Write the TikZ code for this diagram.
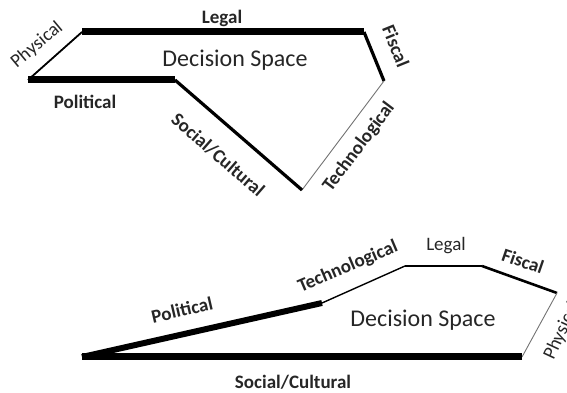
\documentclass[tikz,border=0pt]{standalone}
\usepackage{fontspec}
\setmainfont{Carlito}
\definecolor{ink}{HTML}{262626}
\begin{document}
\begin{tikzpicture}[x=1pt,y=1pt,
  lbl/.style={inner sep=0pt,text=ink,font=\fontsize{19}{19}\selectfont},
  blbl/.style={lbl,font=\fontsize{19}{19}\selectfont\bfseries},
  title/.style={inner sep=0pt,text=ink,font=\fontsize{24}{24}\selectfont},
  heavy/.style={line width=7pt},
  medium/.style={line width=3.2pt},
  light/.style={line width=1.8pt},
  hair/.style={line width=0.9pt,draw=black!55}]
\clip (0,0) rectangle (567,393);

% upper decision space
\coordinate (A) at (28,313);
\coordinate (B) at (82,361);
\coordinate (C) at (364,361);
\coordinate (D) at (384,312);
\coordinate (E) at (302,203);
\coordinate (F) at (175,313);

\draw[light] (A) -- (B);
\draw[heavy] (B) -- (C);
\draw[medium] (C) -- (D);
\draw[hair] (D) -- (E);
\draw[medium] (E) -- (F);
\draw[heavy] (F) -- (A);

\node[title] (ds1) at (235,333) {Decision Space};
\node[blbl] (legal1) at (222,375) {Legal};
\node[lbl,rotate=40] (phys1) at (37,348) {Physical};
\node[blbl] (pol1) at (85,291) {Political};
\node[blbl,rotate=-41] (soc1) at (218,238) {Social/Cultural};
\node[blbl,rotate=-68] (fis1) at (396,347) {Fiscal};
\node[blbl,rotate=53] (tech1) at (359,246) {Technological};

% lower decision space
\coordinate (P) at (82,36);
\coordinate (Q) at (322,90);
\coordinate (R) at (405,127);
\coordinate (S) at (482,127);
\coordinate (T) at (557,100);
\coordinate (U) at (522,36);

\draw[line width=6pt] (P) -- (Q);
\draw[line width=1.4pt] (Q) -- (R);
\draw[line width=1.2pt] (R) -- (S);
\draw[line width=2.6pt] (S) -- (T);
\draw[hair] (T) -- (U);
\draw[heavy] (U) -- (P);

\node[title] (ds2) at (423,73) {Decision Space};
\node[blbl,rotate=13] (pol2) at (182,83) {Political};
\node[blbl,rotate=23] (tech2) at (348,126) {Technological};
\node[lbl] (legal2) at (446,147) {Legal};
\node[blbl,rotate=-19] (fis2) at (523,132) {Fiscal};
\node[lbl,rotate=65] (phys2) at (562,62) {Physical};
\node[blbl] (soc2) at (293,11) {Social/Cultural};
\end{tikzpicture}
\end{document}
